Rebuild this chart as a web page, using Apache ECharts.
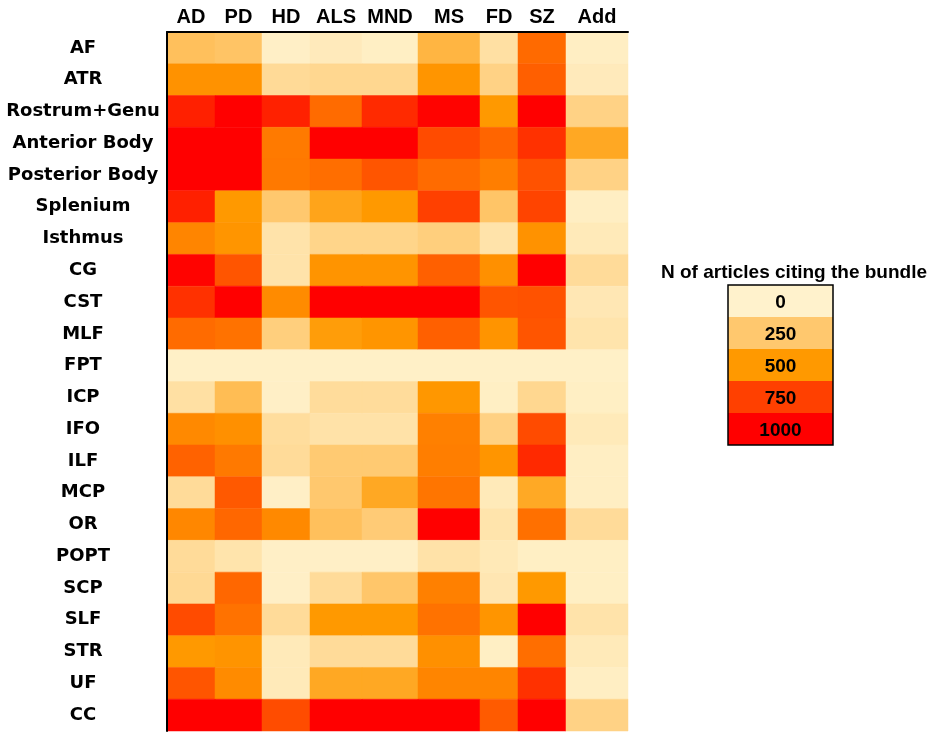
<!DOCTYPE html>
<html>
<head>
<meta charset="utf-8">
<title>Tract citations heatmap</title>
<script src="https://cdn.jsdelivr.net/npm/echarts@6/dist/echarts.min.js"></script>
<style>
  html, body { margin: 0; padding: 0; background: #fff; }
  #chart { width: 935px; height: 741px; }
</style>
</head>
<body>
<div id="chart"></div>
<script>
// columns (disorders) and rows (bundles)
var columns = ['AD', 'PD', 'HD', 'ALS', 'MND', 'MS', 'FD', 'SZ', 'Add'];
var tracts = ['AF', 'ATR', 'Rostrum+Genu', 'Anterior Body', 'Posterior Body', 'Splenium',
  'Isthmus', 'CG', 'CST', 'MLF', 'FPT', 'ICP', 'IFO', 'ILF', 'MCP', 'OR', 'POPT',
  'SCP', 'SLF', 'STR', 'UF', 'CC'];

// N of articles per column, one value per tract (same order as tracts)
var AD  = [290, 520, 875, 1000, 1000, 875, 555, 990, 810, 630, 12, 110, 545, 655, 135, 550, 135, 150, 720, 500, 690, 1000];
var PD  = [270, 520, 1000, 1000, 1000, 500, 510, 690, 1000, 610, 12, 310, 525, 590, 680, 640, 85, 640, 610, 515, 540, 1000];
var HD  = [15, 140, 870, 587, 590, 250, 90, 90, 540, 210, 12, 15, 125, 135, 15, 545, 15, 15, 135, 50, 50, 715];
var ALS = [45, 160, 630, 1000, 620, 440, 175, 515, 1000, 480, 12, 130, 95, 240, 250, 290, 15, 135, 500, 135, 420, 1000];
var MND = [20, 160, 835, 1000, 690, 500, 175, 515, 1000, 510, 12, 130, 95, 240, 420, 230, 15, 260, 500, 135, 420, 1000];
var MS  = [350, 510, 990, 720, 630, 750, 210, 660, 1000, 660, 12, 505, 570, 575, 600, 1000, 95, 570, 610, 525, 555, 1000];
var FD  = [110, 190, 500, 645, 575, 265, 90, 525, 690, 515, 12, 20, 195, 510, 50, 85, 55, 70, 510, 20, 555, 675];
var SZ  = [632, 663, 1000, 810, 700, 740, 520, 1000, 700, 690, 12, 160, 720, 840, 415, 615, 20, 500, 1000, 620, 810, 1000];
var Add = [25, 45, 190, 420, 190, 25, 50, 135, 65, 85, 12, 20, 50, 25, 25, 135, 20, 20, 90, 50, 25, 190];

// colour key
var legendValues = [0, 250, 500, 750, 1000];
var legendColors = ['#FFF2CC', '#FFC86E', '#FF9900', '#FF4000', '#FF0000'];

// layout: column widths (the source figure has unequal columns)
var colWidths = [48, 47, 48, 52, 56, 62, 38, 48, 62];

var byColumn = [AD, PD, HD, ALS, MND, MS, FD, SZ, Add];
var edges = [0];
for (var i = 0; i < colWidths.length; i++) {
  edges.push(edges[i] + colWidths[i]);
}
var centers = [];
for (var i = 0; i < colWidths.length; i++) {
  centers.push((edges[i] + edges[i + 1]) / 2);
}

var data = [];
for (var c = 0; c < columns.length; c++) {
  for (var r = 0; r < tracts.length; r++) {
    data.push([c, r, byColumn[c][r]]);
  }
}

// legend drawn as stacked boxes with value labels
var boxX = 728, boxY = 285, boxW = 105, boxH = 32;
var legendGraphics = [{
  type: 'text',
  left: 794 - 133,
  top: 263,
  style: {
    text: 'N of articles citing the bundle',
    fill: '#000',
    font: 'bold 19px "Liberation Sans", Arial, sans-serif'
  }
}];
for (var k = 0; k < legendValues.length; k++) {
  legendGraphics.push({
    type: 'rect',
    shape: { x: boxX, y: boxY + k * boxH, width: boxW, height: boxH },
    style: { fill: legendColors[k] }
  });
  legendGraphics.push({
    type: 'text',
    x: boxX + boxW / 2,
    y: boxY + k * boxH + boxH / 2 + 2,
    style: {
      text: String(legendValues[k]),
      fill: '#000',
      align: 'center',
      verticalAlign: 'middle',
      font: 'bold 19px "Liberation Sans", Arial, sans-serif'
    }
  });
}
legendGraphics.push({
  type: 'rect',
  shape: { x: boxX, y: boxY, width: boxW, height: boxH * legendValues.length },
  style: { fill: 'none', stroke: '#000', lineWidth: 1.5 }
});

var chart = echarts.init(document.getElementById('chart'));

var option = {
  backgroundColor: '#fff',
  animation: false,
  grid: { left: 167, right: 307, top: 32, bottom: 10 },
  xAxis: {
    type: 'value',
    position: 'top',
    min: 0,
    max: edges[edges.length - 1],
    z: 10,
    splitLine: { show: false },
    axisTick: { show: false },
    axisLine: { show: true, lineStyle: { color: '#000', width: 2 } },
    axisLabel: {
      customValues: centers,
      margin: 15,
      verticalAlign: 'middle',
      color: '#000',
      fontWeight: 'bold',
      fontSize: 20,
      fontFamily: '"Liberation Sans", Arial, sans-serif',
      formatter: function (v) {
        for (var j = 0; j < centers.length; j++) {
          if (Math.abs(centers[j] - v) < 0.01) return columns[j];
        }
        return '';
      }
    }
  },
  yAxis: {
    type: 'category',
    data: tracts,
    inverse: true,
    z: 10,
    splitLine: { show: false },
    axisTick: { show: false },
    axisLine: { show: true, lineStyle: { color: '#000', width: 2 } },
    axisLabel: {
      align: 'center',
      margin: 84,
      color: '#000',
      fontWeight: 'bold',
      fontSize: 18,
      fontFamily: '"DejaVu Sans", sans-serif'
    }
  },
  visualMap: {
    show: false,
    type: 'continuous',
    min: 0,
    max: 1000,
    dimension: 2,
    seriesIndex: 0,
    inRange: { color: legendColors }
  },
  graphic: legendGraphics,
  series: [{
    type: 'custom',
    encode: { x: 0, y: 1 },
    data: data,
    renderItem: function (params, api) {
      var c = api.value(0);
      var r = api.value(1);
      var p0 = api.coord([edges[c], r]);
      var p1 = api.coord([edges[c + 1], r]);
      var h = api.size([0, 1])[1];
      var color = api.visual('color');
      return {
        type: 'rect',
        shape: { x: p0[0], y: p0[1] - h / 2, width: p1[0] - p0[0], height: h },
        style: { fill: color, stroke: color, lineWidth: 0.5 }
      };
    }
  }]
};

chart.setOption(option);
</script>
</body>
</html>
